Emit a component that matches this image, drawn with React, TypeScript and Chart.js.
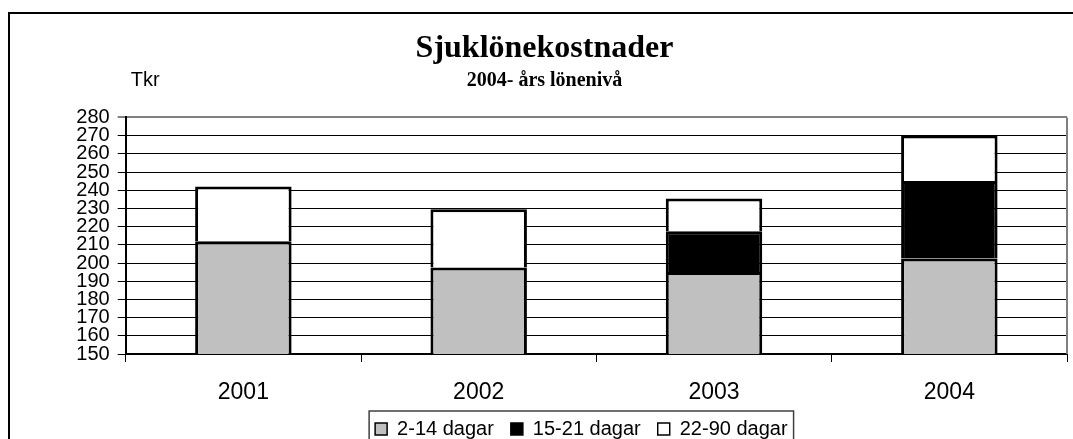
import React, { useEffect, useRef } from 'react';
import { Chart, registerables } from 'chart.js';

Chart.register(...registerables);

// ---- data ----
const years = ['2001', '2002', '2003', '2004'];
const days2to14 = [212, 197.5, 195, 202.5];
const days15to21: (number | null)[] = [null, null, 22.5, 42.5];
const days22to90 = [30, 32, 18, 25];
const seriesNames = ['2-14 dagar', '15-21 dagar', '22-90 dagar'];
const titleText = 'Sjuklönekostnader';
const subtitleText = '2004- års lönenivå';
const unitLabel = 'Tkr';
const yMin = 150;
const yMax = 280;
const yStep = 10;

const LEGEND_SHIFT = -15;

const decorPlugin = {
  id: 'decor',
  afterLayout(chart: any) {
    const lg = chart.legend;
    if (lg) {
      lg.left += LEGEND_SHIFT;
      lg.right += LEGEND_SHIFT;
    }
  },
  afterDraw(chart: any) {
    const ctx = chart.ctx;
    const ca = chart.chartArea;
    ctx.save();
    // gray plot-area right border
    ctx.strokeStyle = '#808080';
    ctx.lineWidth = 2;
    ctx.beginPath();
    ctx.moveTo(ca.right, ca.top);
    ctx.lineTo(ca.right, ca.bottom);
    ctx.stroke();
    // unit label
    ctx.fillStyle = '#000';
    ctx.font = '20px "Liberation Sans", Arial, sans-serif';
    ctx.textAlign = 'left';
    ctx.textBaseline = 'alphabetic';
    ctx.fillText(unitLabel, ca.left + 5, ca.top - 31);
    // legend frame
    const lg = chart.legend;
    if (lg && lg.lineWidths) {
      const pad = lg.options.labels.padding;
      const lw = lg.lineWidths[0];
      const sx = (lg.left + pad + lg.right - lw) / 2;
      const ex = sx + lw - pad;
      const ty = lg.top + pad;
      ctx.strokeStyle = '#404040';
      ctx.lineWidth = 1.5;
      ctx.strokeRect(sx - 6, ty - 8, ex - sx + 12, 60);
    }
    ctx.restore();
  },
};

export default function App() {
  const ref = useRef<HTMLCanvasElement | null>(null);

  useEffect(() => {
    if (!ref.current) return;
    Chart.defaults.font.family = '"Liberation Sans", Arial, sans-serif';
    Chart.defaults.color = '#000';
    const common = {
      borderColor: '#000',
      borderWidth: 3,
      borderSkipped: 'start' as const,
      barPercentage: 0.41,
      categoryPercentage: 1,
    };
    const chart = new Chart(ref.current, {
      type: 'bar',
      data: {
        labels: years,
        datasets: [
          { label: seriesNames[0], data: days2to14, backgroundColor: '#C0C0C0', ...common },
          { label: seriesNames[1], data: days15to21, backgroundColor: '#000000', ...common },
          { label: seriesNames[2], data: days22to90, backgroundColor: '#FFFFFF', ...common },
        ],
      },
      options: {
        responsive: false,
        animation: false,
        layout: { padding: { left: 12, right: 6, top: 0, bottom: 15 } },
        scales: {
          x: {
            stacked: true,
            grid: {
              offset: true,
              drawOnChartArea: false,
              drawTicks: true,
              tickLength: 8,
              color: '#000',
              lineWidth: 1,
            },
            border: { color: '#000', width: 2 },
            ticks: {
              font: { size: 23 },
              color: '#000',
              padding: 17,
            },
            afterFit: (s: any) => {
              s.height = 48;
            },
          },
          y: {
            stacked: true,
            min: yMin,
            max: yMax,
            grid: {
              color: (c: any) => (c.tick && c.tick.value === yMax ? '#808080' : '#000'),
              lineWidth: (c: any) => (c.tick && c.tick.value === yMax ? 2 : 1),
              tickLength: 8,
            },
            border: { color: '#000', width: 2 },
            ticks: {
              stepSize: yStep,
              autoSkip: false,
              font: { size: 20 },
              color: '#000',
              padding: 8,
            },
            afterFit: (s: any) => {
              s.width = 103.7;
            },
          },
        },
        plugins: {
          title: {
            display: true,
            text: titleText,
            color: '#000',
            font: { family: '"Liberation Serif", "Times New Roman", serif', size: 32, weight: 'bold' },
            padding: { top: 16, bottom: 0 },
          },
          subtitle: {
            display: true,
            text: subtitleText,
            color: '#000',
            font: { family: '"Liberation Serif", "Times New Roman", serif', size: 20, weight: 'bold' },
            padding: { top: 0, bottom: 25 },
          },
          legend: {
            display: true,
            position: 'bottom',
            fullSize: false,
            labels: {
              boxWidth: 12,
              boxHeight: 12,
              padding: 17,
              color: '#000',
              font: { size: 20 },
              generateLabels: (ch: any) =>
                Chart.defaults.plugins.legend.labels
                  .generateLabels(ch)
                  .map((l: any) => ({ ...l, lineWidth: 1.5, strokeStyle: '#000' })),
            },
          },
          tooltip: { enabled: false },
        },
      },
      plugins: [decorPlugin],
    });
    return () => chart.destroy();
  }, []);

  return (
    <div
      style={{
        position: 'absolute',
        left: 8,
        top: 12,
        width: 1065,
        height: 427,
        borderTop: '2px solid #000',
        borderLeft: '2px solid #000',
        overflow: 'hidden',
        boxSizing: 'border-box',
        background: '#fff',
      }}
    >
      <canvas ref={ref} width={1063} height={450} style={{ display: 'block' }} />
    </div>
  );
}
